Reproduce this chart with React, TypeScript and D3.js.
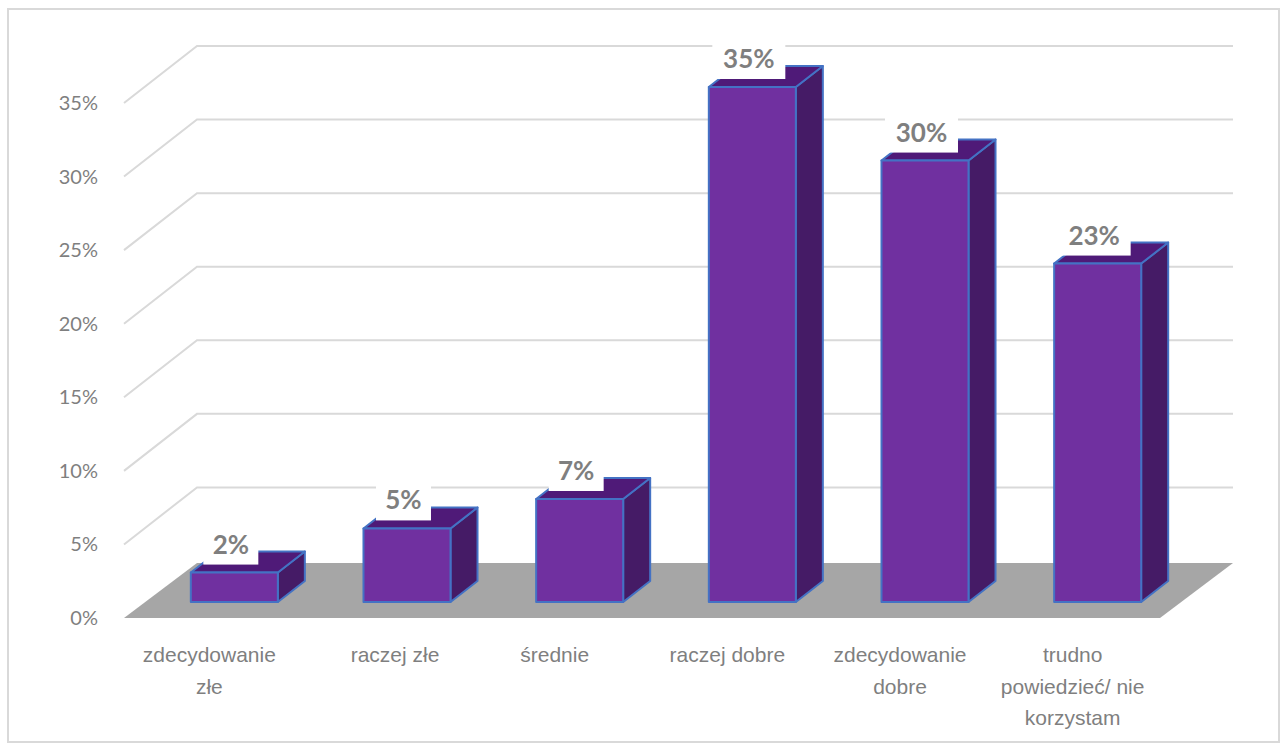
import React from "react";
import * as d3 from "d3";

const categories = [
  ["zdecydowanie", "złe"],
  ["raczej złe"],
  ["średnie"],
  ["raczej dobre"],
  ["zdecydowanie", "dobre"],
  ["trudno", "powiedzieć/ nie", "korzystam"],
];
const shares = [2, 5, 7, 35, 30, 23];
const axisTicks = [0, 5, 10, 15, 20, 25, 30, 35];
const gridLevels = [...axisTicks, 40];

const WIDTH = 1287;
const HEIGHT = 749;

// Oblique projection of the chart box
const floorDepth = { dx: 73, dy: 55 };
const barDepth = { dx: 27, dy: 21 };
const barInset = { dx: 24, dy: 16 };

const INK = "#7f7f7f";
const GRID = "#d9d9d9";
const FLOOR = "#a6a6a6";
const EDGE = "#4472c4";
const FRONT = "#7030a0";
const TOP = "#4f1a78";
const SIDE = "#451b66";

const xBand = d3
  .scaleBand<number>()
  .domain(d3.range(categories.length))
  .range([124, 1160])
  .paddingInner(0.496)
  .paddingOuter(0.248);
const yValue = d3.scaleLinear().domain([0, 35]).range([618, 103]);
const percent = (v: number) => `${v}%`;
const poly = d3.line<[number, number]>();

// "raczej złe" sits slightly right of its slot
const labelNudge = (i: number) => (i === 1 ? 13 : 0);

export default function App() {
  const floorY = yValue(0);
  const left = xBand.range()[0];
  const right = xBand.range()[1];
  const backLeft = left + floorDepth.dx;
  const backRight = right + floorDepth.dx;

  return (
    <svg
      width={WIDTH}
      height={HEIGHT}
      style={{ position: "absolute", left: 0, top: 0, background: "#fff" }}
    >
      <rect x={8} y={9} width={1271} height={733} fill="#fff" stroke={GRID} strokeWidth={2} />

      {gridLevels.map((t) => {
        const y = yValue(t);
        return (
          <g key={t} fill="none" stroke={GRID} strokeWidth={2}>
            {t > 0 && t < 40 && (
              <path d={poly([[left, y], [backLeft, y - floorDepth.dy - 2], [backRight, y - floorDepth.dy - 2]])!} />
            )}
          </g>
        );
      })}

      <path
        d={poly([
          [left, floorY],
          [backLeft, floorY - floorDepth.dy],
          [backRight, floorY - floorDepth.dy],
          [right, floorY],
        ])! + "Z"}
        fill={FLOOR}
      />

      {shares.map((v, i) => {
        const x0 = xBand(i)! + barInset.dx;
        const x1 = x0 + xBand.bandwidth();
        const yb = floorY - barInset.dy;
        const yt = yValue(v) - barInset.dy;
        const { dx, dy } = barDepth;
        return (
          <g key={i} stroke={EDGE} strokeWidth={2} strokeLinejoin="round">
            <path d={poly([[x1, yb], [x1 + dx, yb - dy], [x1 + dx, yt - dy], [x1, yt]])! + "Z"} fill={SIDE} />
            <path d={poly([[x0, yt], [x0 + dx, yt - dy], [x1 + dx, yt - dy], [x1, yt]])! + "Z"} fill={TOP} />
            <rect x={x0} y={yt} width={x1 - x0} height={yb - yt} fill={FRONT} />
          </g>
        );
      })}

      {shares.map((v, i) => {
        const cx = xBand(i)! + barInset.dx + 40;
        const yt = yValue(v) - barInset.dy;
        const boxW = v >= 10 ? 73 : 55;
        return (
          <g key={i}>
            <rect x={cx - boxW / 2} y={yt - 45} width={boxW} height={37} fill="#fff" />
            <text
              x={cx}
              y={yt - 19}
              textAnchor="middle"
              fontFamily="Lato, sans-serif"
              fontWeight={700}
              fontSize={26}
              fill={INK}
            >
              {percent(v)}
            </text>
          </g>
        );
      })}

      {axisTicks.map((t) => (
        <text
          key={t}
          x={98}
          y={yValue(t) + 7}
          textAnchor="end"
          fontFamily="Lato, sans-serif"
          fontSize={20}
          fill={INK}
        >
          {percent(t)}
        </text>
      ))}

      {categories.map((lines, i) => (
        <text
          key={i}
          textAnchor="middle"
          fontFamily="'Liberation Sans', Arial, sans-serif"
          fontSize={21}
          fill={INK}
        >
          {lines.map((line, j) => (
            <tspan key={j} x={xBand(i)! + xBand.bandwidth() / 2 - 1 + labelNudge(i)} y={662 + j * 31.5}>
              {line}
            </tspan>
          ))}
        </text>
      ))}
    </svg>
  );
}
